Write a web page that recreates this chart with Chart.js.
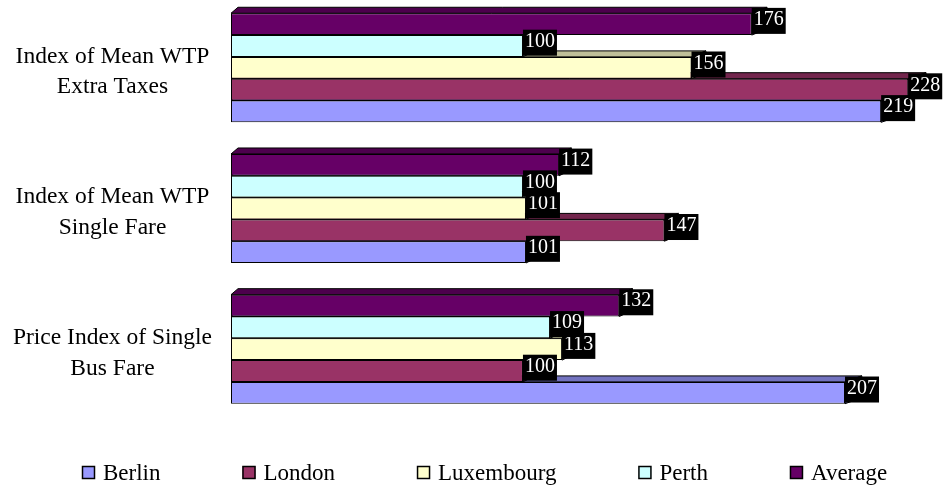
<!DOCTYPE html>
<html>
<head>
<meta charset="utf-8">
<script src="https://cdn.jsdelivr.net/npm/chart.js@4/dist/chart.umd.min.js"></script>
<style>
  html, body { margin: 0; padding: 0; background: #ffffff; }
  #wrap { width: 943px; height: 487px; }
</style>
</head>
<body>
<div id="wrap"><canvas id="chart" width="943" height="487"></canvas></div>
<script>
// Categories (one per bar group, top to bottom)
const categories = [
  ['Index of Mean WTP', 'Extra Taxes'],
  ['Index of Mean WTP', 'Single Fare'],
  ['Price Index of Single', 'Bus Fare']
];

// Series, in legend order
const seriesNames = ['Berlin', 'London', 'Luxembourg', 'Perth', 'Average'];
const berlin     = [219, 101, 207];
const london     = [228, 147, 100];
const luxembourg = [156, 101, 113];
const perth      = [100, 100, 109];
const average    = [176, 112, 132];
const seriesValues = [berlin, london, luxembourg, perth, average];
const seriesColors = ['#9999FF', '#993366', '#FFFFCC', '#CCFFFF', '#660066'];

const SERIF = '"Liberation Serif", "Times New Roman", serif';

// Value axis: the front face of the 3D floor sits slightly right of zero
const AXIS_MIN = 3;
const AXIS_MAX = 236;

// Darken a #rrggbb colour by a factor
function shade(hex, f) {
  const n = parseInt(hex.slice(1), 16);
  const r = Math.round(((n >> 16) & 255) * f);
  const g = Math.round(((n >> 8) & 255) * f);
  const b = Math.round((n & 255) * f);
  return 'rgb(' + r + ',' + g + ',' + b + ')';
}

// Depth of the pseudo-3D bars (grows slightly towards the right)
function depthX(chart, x) {
  return 7 + (x - chart.chartArea.left) * 0.016;
}
const DEPTH_Y = 6;

// Bars are listed top-to-bottom inside each group, so the last series (Average) comes first
const datasets = seriesNames.map((name, i) => ({
  label: name,
  data: seriesValues[i],
  backgroundColor: seriesColors[i],
  borderColor: '#000000',
  borderWidth: 1,
  borderSkipped: false,
  base: AXIS_MIN,
  clip: false
})).reverse();

// Top and end faces of each bar, drawn behind the front faces
const bar3d = {
  id: 'bar3d',
  beforeDatasetsDraw(chart) {
    const ctx = chart.ctx;
    const n = chart.data.datasets.length;
    ctx.save();
    ctx.lineWidth = 1;
    ctx.strokeStyle = '#000000';
    ctx.lineJoin = 'miter';
    for (let di = n - 1; di >= 0; di--) {
      const meta = chart.getDatasetMeta(di);
      const col = chart.data.datasets[di].backgroundColor;
      meta.data.forEach(bar => {
        const x0 = bar.base, x1 = bar.x;
        const y0 = bar.y - bar.height / 2, y1 = bar.y + bar.height / 2;
        const d0 = depthX(chart, x0), d1 = depthX(chart, x1);
        // top face
        ctx.beginPath();
        ctx.moveTo(x0, y0);
        ctx.lineTo(x1, y0);
        ctx.lineTo(x1 + d1, y0 - DEPTH_Y);
        ctx.lineTo(x0 + d0, y0 - DEPTH_Y);
        ctx.closePath();
        ctx.fillStyle = shade(col, 0.75);
        ctx.fill();
        ctx.stroke();
        // end face
        ctx.beginPath();
        ctx.moveTo(x1, y0);
        ctx.lineTo(x1 + d1, y0 - DEPTH_Y);
        ctx.lineTo(x1 + d1, y1 - DEPTH_Y);
        ctx.lineTo(x1, y1);
        ctx.closePath();
        ctx.fillStyle = shade(col, 0.55);
        ctx.fill();
        ctx.stroke();
      });
    }
    ctx.restore();
  }
};

// Value boxes at the end of each bar
const valueLabels = {
  id: 'valueLabels',
  afterDatasetsDraw(chart) {
    const ctx = chart.ctx;
    const n = chart.data.datasets.length;
    ctx.save();
    ctx.font = '20px ' + SERIF;
    ctx.textAlign = 'left';
    ctx.textBaseline = 'alphabetic';
    for (let di = n - 1; di >= 0; di--) {
      const meta = chart.getDatasetMeta(di);
      const ds = chart.data.datasets[di];
      meta.data.forEach((bar, i) => {
        const txt = String(ds.data[i]);
        const w = ctx.measureText(txt).width + 4;
        const h = 26;
        const cy = bar.y - 3.3;
        ctx.fillStyle = '#000000';
        ctx.fillRect(bar.x, cy - h / 2, w, h);
        ctx.fillStyle = '#ffffff';
        ctx.fillText(txt, bar.x + 2, cy + 4.2);
      });
    }
    ctx.restore();
  }
};

// Legend row below the plot, in series order
const bottomLegend = {
  id: 'bottomLegend',
  afterDraw(chart) {
    const ctx = chart.ctx;
    ctx.save();
    ctx.font = '23px ' + SERIF;
    ctx.textAlign = 'left';
    ctx.textBaseline = 'alphabetic';
    const box = 13, gapText = 8, gapItem = 82;
    const baseline = 480;
    let x = 82;
    seriesNames.forEach((name, i) => {
      ctx.fillStyle = seriesColors[i];
      ctx.fillRect(x, 466, box, box);
      ctx.lineWidth = 1.5;
      ctx.strokeStyle = '#000000';
      ctx.strokeRect(x + 0.5, 466.5, box - 1, box - 1);
      ctx.fillStyle = '#000000';
      ctx.fillText(name, x + box + gapText, baseline);
      x += box + gapText + ctx.measureText(name).width + gapItem;
    });
    ctx.restore();
  }
};

new Chart(document.getElementById('chart'), {
  type: 'bar',
  data: { labels: categories, datasets: datasets },
  options: {
    indexAxis: 'y',
    responsive: false,
    devicePixelRatio: 1,
    animation: false,
    categoryPercentage: 0.775,
    barPercentage: 1.0,
    layout: { padding: { top: 67.8, right: 10.7, bottom: 137.8, left: 0 } },
    plugins: {
      legend: { display: false },
      tooltip: { enabled: false }
    },
    scales: {
      x: {
        display: false,
        min: AXIS_MIN,
        max: AXIS_MAX
      },
      y: {
        type: 'category',
        offset: false,
        grid: { display: false, drawTicks: false },
        border: { display: false },
        ticks: {
          color: '#000000',
          font: { family: SERIF, size: 23.5, lineHeight: 1.3 },
          crossAlign: 'center',
          padding: 19,
          labelOffset: 4
        },
        afterFit(scale) { scale.width = 231; }
      }
    }
  },
  plugins: [bar3d, valueLabels, bottomLegend]
});
</script>
</body>
</html>
